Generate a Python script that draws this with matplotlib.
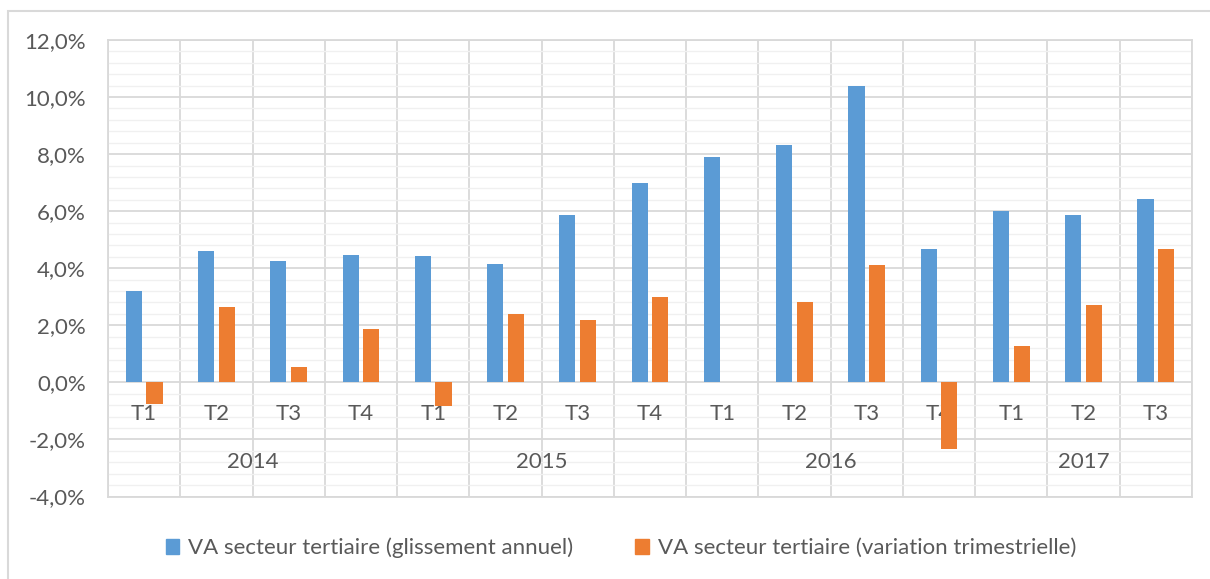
import numpy as np
import matplotlib
matplotlib.use("Agg")
import matplotlib.pyplot as plt
from matplotlib.ticker import FuncFormatter
from matplotlib.patches import Rectangle, Patch

plt.rcParams['font.family'] = ['Lato', 'DejaVu Sans']

# data
quarters = ['T1', 'T2', 'T3', 'T4', 'T1', 'T2', 'T3', 'T4',
            'T1', 'T2', 'T3', 'T4', 'T1', 'T2', 'T3']
years = ['2014', '2015', '2016', '2017']
quarters_per_year = [4, 4, 4, 3]
annual = [3.19, 4.62, 4.24, 4.48, 4.43, 4.14, 5.87, 6.99,
          7.89, 8.33, 10.39, 4.67, 6.01, 5.88, 6.44]
quarterly = [-0.77, 2.65, 0.53, 1.88, -0.83, 2.38, 2.18, 2.99,
             0.0, 2.80, 4.11, -2.33, 1.29, 2.70, 4.66]

blue = '#5B9BD5'
orange = '#ED7D31'
grid_c = '#D9D9D9'
minor_c = '#F0F0F0'
text_c = '#595959'
fs = 16

fig = plt.figure(figsize=(12.1, 5.79), dpi=100)
ax = fig.add_axes([108 / 1210, 1 - 496.5 / 579, 1084 / 1210, 456.5 / 579])

x = np.arange(len(quarters))
w = 0.224
ax.bar(x - 0.143, annual, w, color=blue, zorder=3)
ax.bar(x + 0.143, quarterly, w, color=orange, zorder=4)

ax.set_xlim(-0.5, len(quarters) - 0.5)
ax.set_ylim(-4, 12)
ax.set_yticks(np.arange(-4, 12.1, 2))
ax.set_yticks(np.arange(-4, 12.01, 0.4), minor=True)
ax.yaxis.set_major_formatter(FuncFormatter(lambda v, p: f"{v:.1f}%".replace('.', ',')))
ax.set_xticks(x, [''] * len(quarters))
ax.set_xticks(np.arange(-0.5, len(quarters), 1), minor=True)

ax.grid(which='major', axis='y', color=grid_c, lw=1.3, zorder=1)
ax.grid(which='minor', axis='y', color=minor_c, lw=1.0, zorder=0)
ax.grid(which='minor', axis='x', color=grid_c, lw=1.3, zorder=1)

ax.tick_params(which='both', length=0)
ax.tick_params(axis='y', labelsize=fs, labelcolor=text_c, pad=16)

for s in ax.spines.values():
    s.set_color(grid_c)
    s.set_linewidth(1.3)

# quarter labels under the zero line, year labels below them
for xi, q in zip(x, quarters):
    ax.text(xi, -1.1, q, ha='center', va='center', fontsize=fs, color=text_c, zorder=3.5)
start = 0
for yr, n in zip(years, quarters_per_year):
    ax.text(start + (n - 1) / 2, -2.8, yr, ha='center', va='center',
            fontsize=fs, color=text_c, zorder=3.5)
    start += n

handles = [Patch(color=blue), Patch(color=orange)]
labels = ['VA secteur tertiaire (glissement annuel)',
          'VA secteur tertiaire (variation trimestrielle)']
fig.legend(handles, labels, loc='center', bbox_to_anchor=(621 / 1210, 1 - 548 / 579),
           ncol=2, frameon=False, fontsize=fs, labelcolor=text_c,
           handlelength=0.6, handleheight=0.6, handletextpad=0.4, columnspacing=2.8)

fig.patches.append(Rectangle((8 / 1210, -0.1), 1.2, 1.1 - 11 / 579, transform=fig.transFigure,
                             fill=False, edgecolor=grid_c, lw=1.5))

fig.savefig('out.png', dpi=100)
